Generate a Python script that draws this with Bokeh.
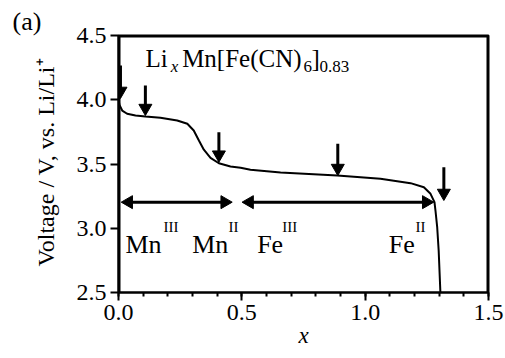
import math
from bokeh.plotting import figure
from bokeh.models import (FixedTicker, PrintfTickFormatter, Range1d, ColumnDataSource, Title)
from bokeh.embed import file_html
from bokeh.resources import INLINE
from bokeh.core.properties import value

# ---- data ----
x_vals = [0.000, 0.004, 0.015, 0.035, 0.069, 0.109, 0.170, 0.238, 0.279, 0.305, 0.326,
          0.346, 0.373, 0.407, 0.454, 0.495, 0.535, 0.657, 0.887, 1.062, 1.184,
          1.238, 1.265, 1.281, 1.285, 1.292, 1.298, 1.305]
v_vals = [4.000, 3.960, 3.916, 3.891, 3.877, 3.870, 3.860, 3.839, 3.813, 3.761, 3.683,
          3.611, 3.548, 3.506, 3.481, 3.470, 3.455, 3.434, 3.411, 3.385, 3.351,
          3.319, 3.268, 3.203, 3.138, 3.008, 2.827, 2.500]

# down arrows (marked points)
arr_x = [0.008, 0.109, 0.407, 0.889, 1.319]
arr_top = [4.267, 4.111, 3.748, 3.657, 3.475]
arr_tip = [4.010, 3.877, 3.514, 3.410, 3.216]

# double arrows (redox regions)
reg_x0 = [0.011, 0.501]
reg_x1 = [0.461, 1.278]
reg_v = [3.203, 3.203]

# ion labels
ion_names = ["Mn", "Mn", "Fe", "Fe"]
ion_states = ["III", "II", "III", "II"]
ion_x = [0.028, 0.299, 0.562, 1.096]
ion_sup_x = [0.182, 0.446, 0.664, 1.204]

# formula pieces
form_text = ["Li", "Mn[Fe(CN)", "]"]
form_x = [0.109, 0.258, 0.782]
form_sub_text = ["6", "0.83"]
form_sub_x = [0.750, 0.815]

x_ticks = [0.0, 0.5, 1.0, 1.5]
y_ticks = [2.5, 3.0, 3.5, 4.0, 4.5]

SERIF = "Liberation Serif"
X0, X1, Y0, Y1 = 0.0, 1.5, 2.5, 4.5
FW, FH = 370, 257          # frame size in pixels
HEAD = 13                  # arrow head marker size (px)

p = figure(width=505, height=358, output_backend="svg", toolbar_location=None,
           x_range=Range1d(X0, X1), y_range=Range1d(Y0, Y1),
           min_border_left=118, min_border_right=17, min_border_top=35,
           min_border_bottom=66)
p.xgrid.grid_line_color = None
p.ygrid.grid_line_color = None
p.outline_line_color = "black"
p.outline_line_width = 2
p.outline_line_alpha = 1.0

xa = p.xaxis[0]
xa.ticker = FixedTicker(ticks=x_ticks,
                        minor_ticks=[round(0.1 * i, 2) for i in range(16)])
xa.formatter = PrintfTickFormatter(format="%.1f")
ya = p.yaxis[0]
ya.ticker = FixedTicker(ticks=y_ticks)
ya.formatter = PrintfTickFormatter(format="%.1f")
for ax in (xa, ya):
    ax.axis_line_width = 2
    ax.axis_line_color = "black"
    ax.major_tick_line_width = 2
    ax.major_tick_line_color = "black"
    ax.major_tick_out = 8
    ax.major_tick_in = 0
    ax.minor_tick_line_width = 2
    ax.minor_tick_line_color = "black"
    ax.minor_tick_out = 4
    ax.minor_tick_in = 0
    ax.major_label_text_font = SERIF
    ax.major_label_text_font_size = "24px"
    ax.major_label_text_color = "black"
ya.minor_tick_line_color = None
xa.major_label_standoff = 4
ya.major_label_standoff = 4

# x axis title
xa.axis_label = "x"
xa.axis_label_text_font = SERIF
xa.axis_label_text_font_style = "italic"
xa.axis_label_text_font_size = "23px"
xa.axis_label_text_color = "black"
xa.axis_label_standoff = 0

# y axis title as a side title (offset along the axis like the reference)
p.add_layout(Title(text="Voltage / V, vs. Li/Li\u207a", align="left", offset=26,
                   standoff=30, text_font=SERIF, text_font_size="24px",
                   text_font_style="normal", text_color="black"), "left")
# panel letter
p.add_layout(Title(text="(a)", align="left", offset=-106, standoff=0,
                   text_font=SERIF, text_font_size="26px", text_font_style="normal",
                   text_color="black"), "above")

# box edges (left, top, right) along the range limits
p.multi_line(xs=[[X0, X0], [X0, X1], [X1, X1]], ys=[[Y0, Y1], [Y1, Y1], [Y1, Y0]],
             line_color="black", line_width=4)

# curve
p.line(x_vals, v_vals, line_color="black", line_width=2)

# arrow heads: marker centre sits 0.577*HEAD px behind the tip
dv = 0.577 * HEAD * (Y1 - Y0) / FH
dx = 0.577 * HEAD * (X1 - X0) / FW

# down arrows
p.segment(x0=arr_x, y0=arr_top, x1=arr_x, y1=[t + dv for t in arr_tip],
          line_color="black", line_width=3)
p.scatter(x=arr_x, y=[t + dv for t in arr_tip], marker="inverted_triangle",
          size=HEAD, fill_color="black", line_color="black", line_width=1)

# double arrows
p.segment(x0=[a + dx for a in reg_x0], y0=reg_v, x1=[b - dx for b in reg_x1], y1=reg_v,
          line_color="black", line_width=3)
p.scatter(x=[a + dx for a in reg_x0], y=reg_v, marker="triangle", angle=math.pi / 2,
          size=HEAD, fill_color="black", line_color="black", line_width=1)
p.scatter(x=[b - dx for b in reg_x1], y=reg_v, marker="triangle", angle=-math.pi / 2,
          size=HEAD, fill_color="black", line_color="black", line_width=1)

# ion labels
src = ColumnDataSource(dict(x=ion_x, y=[2.874] * 4, t=ion_names))
p.text(x="x", y="y", text="t", source=src, text_font=value(SERIF),
       text_font_size="26px", text_color="black", text_align="left",
       text_baseline="alphabetic")
src2 = ColumnDataSource(dict(x=ion_sup_x, y=[3.006] * 4, t=ion_states))
p.text(x="x", y="y", text="t", source=src2, text_font=value(SERIF),
       text_font_size="15px", text_color="black", text_align="left",
       text_baseline="alphabetic")

# formula Li_x Mn[Fe(CN)6]0.83
p.text(x=form_x, y=[4.319] * 3, text=form_text, text_font=value(SERIF),
       text_font_size="25px", text_color="black", text_align="left",
       text_baseline="alphabetic")
p.text(x=[0.212], y=[4.259], text=["x"], text_font=value(SERIF),
       text_font_size="17px", text_font_style="italic", text_color="black",
       text_align="left", text_baseline="alphabetic")
p.text(x=form_sub_x, y=[4.259] * 2, text=form_sub_text, text_font=value(SERIF),
       text_font_size="17px", text_color="black", text_align="left",
       text_baseline="alphabetic")

open("out.html", "w").write(file_html(p, INLINE))
